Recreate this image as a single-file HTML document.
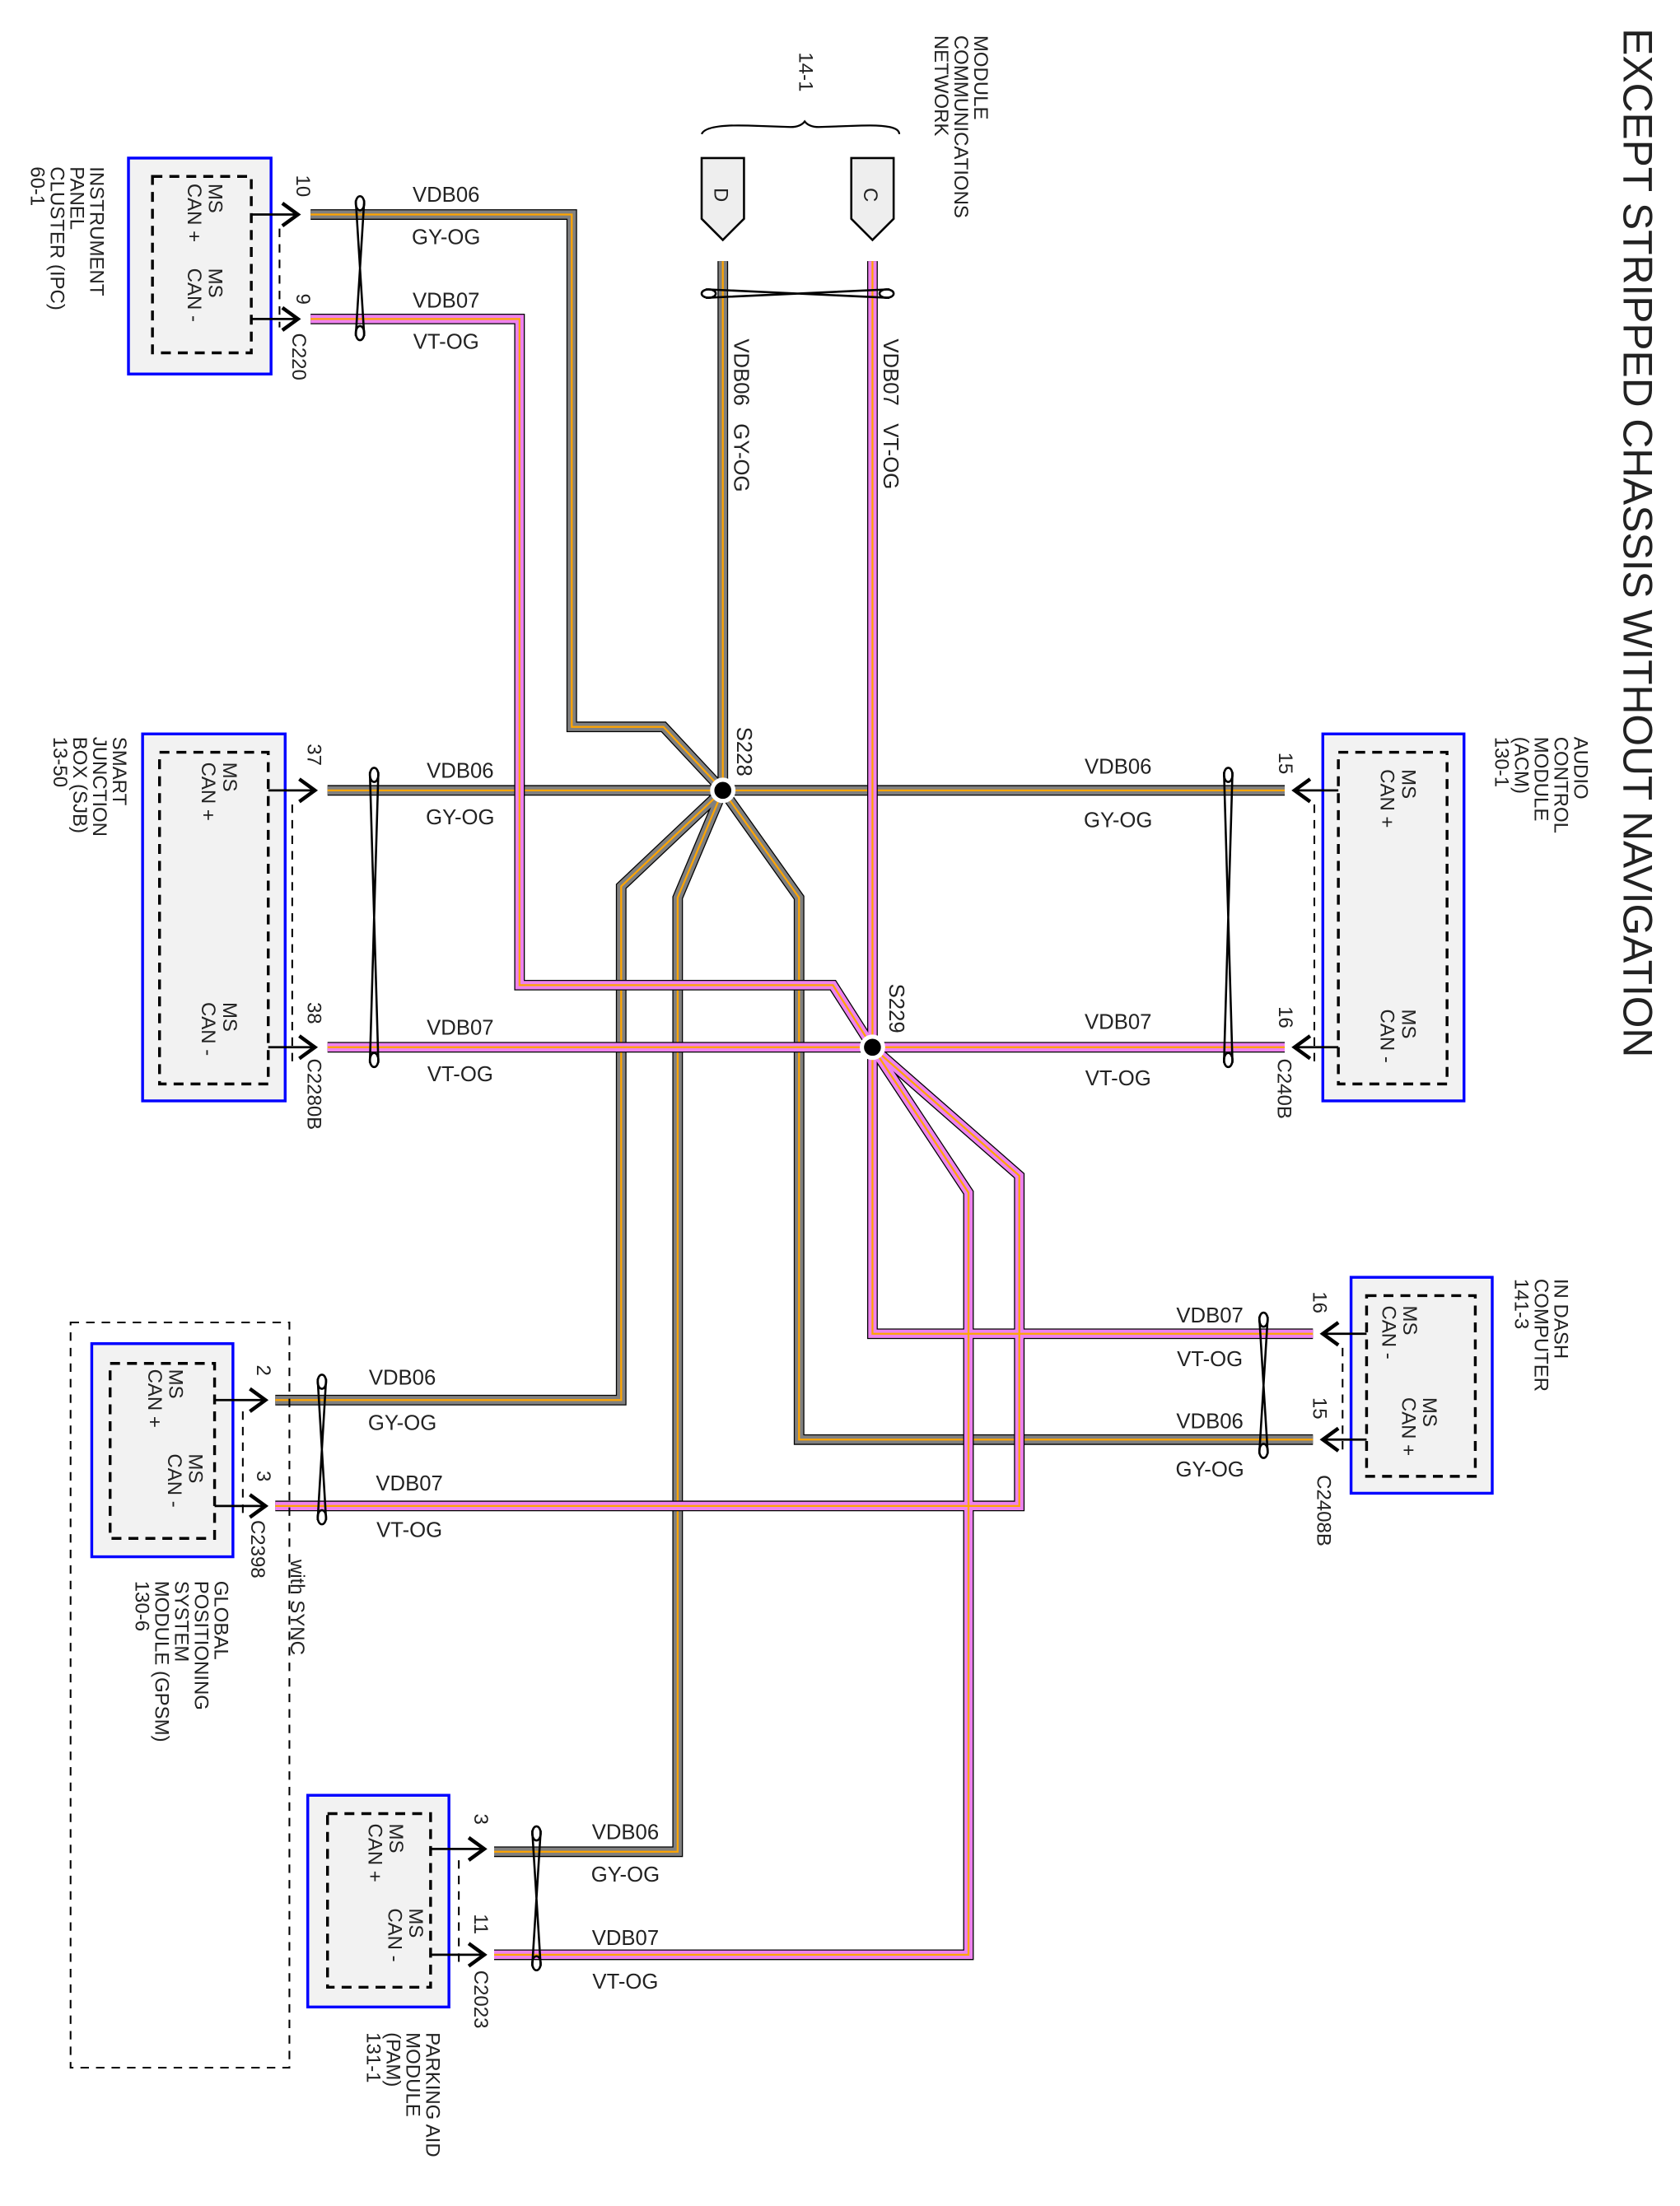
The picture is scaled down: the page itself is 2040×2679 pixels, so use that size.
<!DOCTYPE html>
<html><head><meta charset="utf-8"><style>html,body{margin:0;padding:0;background:#fff}svg{display:block}text{font-family:"Liberation Sans",sans-serif;fill:#222}</style></head>
<body>
<svg width="2040" height="2679" viewBox="0 0 1190 1563" preserveAspectRatio="none" xmlns="http://www.w3.org/2000/svg">
<defs>
<path id="g1" d="M220,152 H405 V515 H470 L512,560"/>
<path id="g2" d="M512,185 V560"/>
<path id="g3" d="M232,560 H910"/>
<path id="g4" d="M512,560 L440,628 V992 H195"/>
<path id="g5" d="M512,560 L480,636 V1312 H350"/>
<path id="g6" d="M512,560 L566,636 V1020 H930"/>
<path id="p1" d="M220,226 H368 V698 H590 L618,742"/>
<path id="p2" d="M618,185 V945 H930"/>
<path id="p3" d="M232,742 H910"/>
<path id="p4" d="M618,742 L686,845 V1385 H350"/>
<path id="p5" d="M618,742 L722,833 V1067 H195"/>
</defs>
<g fill="none" stroke-linejoin="miter">
<g stroke="#000" stroke-width="7.5"><use href="#g1"/><use href="#g2"/><use href="#g3"/><use href="#g4"/><use href="#g5"/><use href="#g6"/></g>
<g stroke="#808080" stroke-width="6"><use href="#g1"/><use href="#g2"/><use href="#g3"/><use href="#g4"/><use href="#g5"/><use href="#g6"/></g>
<g stroke="#ffa500" stroke-width="1.3"><use href="#g1"/><use href="#g2"/><use href="#g3"/><use href="#g4"/><use href="#g5"/><use href="#g6"/></g>
<g stroke="#000" stroke-width="7.5"><use href="#p1"/><use href="#p2"/><use href="#p3"/><use href="#p4"/><use href="#p5"/></g>
<g stroke="#ee82ee" stroke-width="6"><use href="#p1"/><use href="#p2"/><use href="#p3"/><use href="#p4"/><use href="#p5"/></g>
<g stroke="#ffa500" stroke-width="1.3"><use href="#p1"/><use href="#p2"/><use href="#p3"/><use href="#p4"/><use href="#p5"/></g>
</g>
<!-- splices -->
<circle cx="512" cy="560" r="7.5" fill="#000" stroke="#fff" stroke-width="3"/>
<circle cx="618" cy="742" r="7.5" fill="#000" stroke="#fff" stroke-width="3"/>
<text transform="translate(522,515) rotate(90)" font-size="15">S228</text>
<text transform="translate(630,697) rotate(90)" font-size="15">S229</text>

<!-- title -->
<text transform="translate(1150,20) rotate(90)" font-size="29">EXCEPT STRIPPED CHASSIS WITHOUT NAVIGATION</text>

<!-- top connectors -->
<path d="M497,112 H527 V155 L512,170 L497,155 Z" fill="#eee" stroke="#000" stroke-width="1.5"/>
<path d="M603,112 H633 V155 L618,170 L603,155 Z" fill="#eee" stroke="#000" stroke-width="1.5"/>
<text transform="translate(506,133) rotate(90)" font-size="14">D</text>
<text transform="translate(612,133) rotate(90)" font-size="14">C</text>
<path d="M497,95 Q500,88 530,89 L560,90 Q567,90 570,86 Q573,90 580,90 L610,89 Q637,88 637,95" fill="none" stroke="#000" stroke-width="1.3"/>
<text transform="translate(566,37) rotate(90)" font-size="14">14-1</text>
<g font-size="14"><text transform="translate(690,25) rotate(90)">MODULE</text><text transform="translate(676,25) rotate(90)">COMMUNICATIONS</text><text transform="translate(662,25) rotate(90)">NETWORK</text></g>
<text transform="translate(520,240) rotate(90)" font-size="15" xml:space="preserve">VDB06   GY-OG</text>
<text transform="translate(626,240) rotate(90)" font-size="15" xml:space="preserve">VDB07   VT-OG</text>

<!-- twists -->
<g fill="none" stroke="#000" stroke-width="1.5">
<path d="M500,205 L630,211 M500,211 L630,205"/><ellipse cx="502" cy="208" rx="5" ry="3"/><ellipse cx="628" cy="208" rx="5" ry="3"/>
<path d="M252,142 L258,238 M258,142 L252,238"/><ellipse cx="255" cy="144" rx="3" ry="5"/><ellipse cx="255" cy="236" rx="3" ry="5"/>
<path d="M262,547 L268,753 M268,547 L262,753"/><ellipse cx="265" cy="549" rx="3" ry="5"/><ellipse cx="265" cy="751" rx="3" ry="5"/>
<path d="M867,547 L873,753 M873,547 L867,753"/><ellipse cx="870" cy="549" rx="3" ry="5"/><ellipse cx="870" cy="751" rx="3" ry="5"/>
<path d="M892,933 L898,1030 M898,933 L892,1030"/><ellipse cx="895" cy="935" rx="3" ry="5"/><ellipse cx="895" cy="1028" rx="3" ry="5"/>
<path d="M225,977 L231,1077 M231,977 L225,1077"/><ellipse cx="228" cy="979" rx="3" ry="5"/><ellipse cx="228" cy="1075" rx="3" ry="5"/>
<path d="M377,1297 L383,1393 M383,1297 L377,1393"/><ellipse cx="380" cy="1299" rx="3" ry="5"/><ellipse cx="380" cy="1391" rx="3" ry="5"/>
</g>

<!-- boxes -->
<g fill="#f2f2f2" stroke="#0000ff" stroke-width="2">
<rect x="91" y="112" width="101" height="153"/>
<rect x="101" y="520" width="101" height="260"/>
<rect x="937" y="520" width="100" height="260"/>
<rect x="957" y="905" width="100" height="153"/>
<rect x="65" y="952" width="100" height="151"/>
<rect x="218" y="1272" width="100" height="150"/>
</g>
<g fill="none" stroke="#000" stroke-width="2" stroke-dasharray="7,5">
<rect x="108" y="125" width="70" height="125"/>
<rect x="113" y="533" width="77" height="235"/>
<rect x="948" y="533" width="77" height="235"/>
<rect x="968" y="918" width="77" height="128"/>
<rect x="78" y="966" width="74" height="124"/>
<rect x="232" y="1285" width="73" height="123"/>
</g>
<g fill="none" stroke="#000" stroke-width="1.2" stroke-dasharray="6,5">
<path d="M198,162 V232"/><path d="M207,570 V752 "/><path d="M931,570 V752"/><path d="M951,955 V1030"/><path d="M172,1000 V1075"/><path d="M325,1318 V1393"/>
<rect x="50" y="937" width="155" height="528"/>
</g>

<!-- pin stubs & arrows -->
<g fill="none" stroke="#000" stroke-width="1.6">
<path d="M178,152 H212 M178,226 H212 M190,560 H224 M190,742 H224 M948,560 H916 M948,742 H916 M968,945 H936 M968,1020 H936 M152,992 H187 M152,1067 H187 M305,1310 H342 M305,1385 H342"/>
</g>
<g fill="none" stroke="#000" stroke-width="2.6">
<path d="M200,144 L211,152 L200,160 M200,218 L211,226 L200,234 M212,552 L223,560 L212,568 M212,734 L223,742 L212,750 M177,984 L188,992 L177,1000 M177,1059 L188,1067 L177,1075 M332,1302 L343,1310 L332,1318 M332,1377 L343,1385 L332,1393"/>
<path d="M928,552 L917,560 L928,568 M928,734 L917,742 L928,750 M948,937 L937,945 L948,953 M948,1012 L937,1020 L948,1028"/>
</g>

<!-- pin numbers -->
<g font-size="14">
<text transform="translate(210,124) rotate(90)">10</text>
<text transform="translate(210,208) rotate(90)">9</text>
<text transform="translate(218,527) rotate(90)">37</text>
<text transform="translate(218,710) rotate(90)">38</text>
<text transform="translate(906,533) rotate(90)">15</text>
<text transform="translate(906,713) rotate(90)">16</text>
<text transform="translate(930,915) rotate(90)">16</text>
<text transform="translate(930,990) rotate(90)">15</text>
<text transform="translate(182,967) rotate(90)">2</text>
<text transform="translate(182,1042) rotate(90)">3</text>
<text transform="translate(336,1285) rotate(90)">3</text>
<text transform="translate(336,1356) rotate(90)">11</text>
<text transform="translate(207,236) rotate(90)">C220</text>
<text transform="translate(218,750) rotate(90)">C2280B</text>
<text transform="translate(905,750) rotate(90)">C240B</text>
<text transform="translate(933,1045) rotate(90)">C2408B</text>
<text transform="translate(178,1077) rotate(90)">C2398</text>
<text transform="translate(206,1105) rotate(90)">with SYNC</text>
<text transform="translate(336,1396) rotate(90)">C2023</text>
</g>

<!-- wire labels -->
<g font-size="15" text-anchor="middle">
<text x="316" y="143">VDB06</text><text x="316" y="173">GY-OG</text>
<text x="316" y="218">VDB07</text><text x="316" y="247">VT-OG</text>
<text x="326" y="551">VDB06</text><text x="326" y="584">GY-OG</text>
<text x="326" y="733">VDB07</text><text x="326" y="766">VT-OG</text>
<text x="792" y="548">VDB06</text><text x="792" y="586">GY-OG</text>
<text x="792" y="729">VDB07</text><text x="792" y="769">VT-OG</text>
<text x="857" y="937">VDB07</text><text x="857" y="968">VT-OG</text>
<text x="857" y="1012">VDB06</text><text x="857" y="1046">GY-OG</text>
<text x="285" y="981">VDB06</text><text x="285" y="1013">GY-OG</text>
<text x="290" y="1056">VDB07</text><text x="290" y="1089">VT-OG</text>
<text x="443" y="1303">VDB06</text><text x="443" y="1333">GY-OG</text>
<text x="443" y="1378">VDB07</text><text x="443" y="1409">VT-OG</text>
</g>

<!-- box inner labels -->
<g font-size="14">
<text transform="translate(148,130) rotate(90)">MS</text><text transform="translate(133,130) rotate(90)">CAN +</text>
<text transform="translate(148,190) rotate(90)">MS</text><text transform="translate(133,190) rotate(90)">CAN -</text>
<text transform="translate(158,540) rotate(90)">MS</text><text transform="translate(143,540) rotate(90)">CAN +</text>
<text transform="translate(158,710) rotate(90)">MS</text><text transform="translate(143,710) rotate(90)">CAN -</text>
<text transform="translate(993,545) rotate(90)">MS</text><text transform="translate(978,545) rotate(90)">CAN +</text>
<text transform="translate(993,715) rotate(90)">MS</text><text transform="translate(978,715) rotate(90)">CAN -</text>
<text transform="translate(994,925) rotate(90)">MS</text><text transform="translate(979,925) rotate(90)">CAN -</text>
<text transform="translate(1008,990) rotate(90)">MS</text><text transform="translate(993,990) rotate(90)">CAN +</text>
<text transform="translate(120,970) rotate(90)">MS</text><text transform="translate(105,970) rotate(90)">CAN +</text>
<text transform="translate(134,1030) rotate(90)">MS</text><text transform="translate(119,1030) rotate(90)">CAN -</text>
<text transform="translate(276,1292) rotate(90)">MS</text><text transform="translate(261,1292) rotate(90)">CAN +</text>
<text transform="translate(290,1352) rotate(90)">MS</text><text transform="translate(275,1352) rotate(90)">CAN -</text>
</g>

<!-- module names -->
<g font-size="14">
<text transform="translate(64,118) rotate(90)">INSTRUMENT</text>
<text transform="translate(50,118) rotate(90)">PANEL</text>
<text transform="translate(36,118) rotate(90)">CLUSTER (IPC)</text>
<text transform="translate(22,118) rotate(90)">60-1</text>
<text transform="translate(80,522) rotate(90)">SMART</text>
<text transform="translate(66,522) rotate(90)">JUNCTION</text>
<text transform="translate(52,522) rotate(90)">BOX (SJB)</text>
<text transform="translate(38,522) rotate(90)">13-50</text>
<text transform="translate(1115,522) rotate(90)">AUDIO</text>
<text transform="translate(1101,522) rotate(90)">CONTROL</text>
<text transform="translate(1087,522) rotate(90)">MODULE</text>
<text transform="translate(1073,522) rotate(90)">(ACM)</text>
<text transform="translate(1059,522) rotate(90)">130-1</text>
<text transform="translate(1101,906) rotate(90)">IN DASH</text>
<text transform="translate(1087,906) rotate(90)">COMPUTER</text>
<text transform="translate(1073,906) rotate(90)">141-3</text>
<text transform="translate(152,1120) rotate(90)">GLOBAL</text>
<text transform="translate(138,1120) rotate(90)">POSITIONING</text>
<text transform="translate(124,1120) rotate(90)">SYSTEM</text>
<text transform="translate(110,1120) rotate(90)">MODULE (GPSM)</text>
<text transform="translate(96,1120) rotate(90)">130-6</text>
<text transform="translate(302,1440) rotate(90)">PARKING AID</text>
<text transform="translate(288,1440) rotate(90)">MODULE</text>
<text transform="translate(274,1440) rotate(90)">(PAM)</text>
<text transform="translate(260,1440) rotate(90)">131-1</text>
</g>
</svg>
</body></html>
